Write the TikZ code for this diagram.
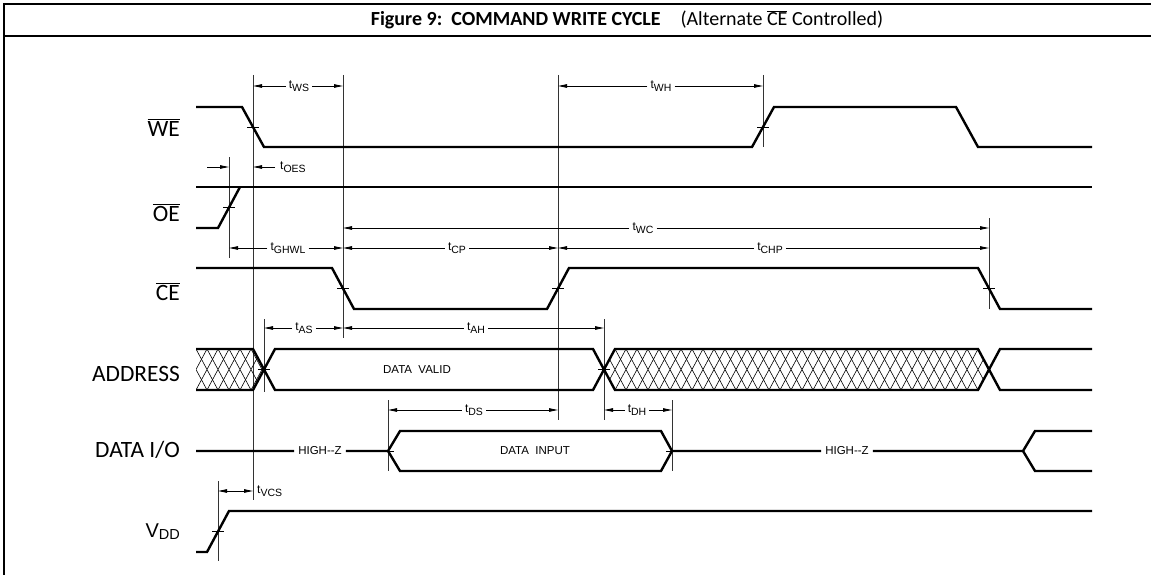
\documentclass[tikz,border=0pt]{standalone}
\usepackage{fontspec}
\setmainfont{Carlito}
\newfontfamily\dimfont{Liberation Sans}
\usetikzlibrary{arrows.meta}

\newcommand{\ovl}[1]{$\overline{\hbox{#1}}$}
\newcommand{\tsub}[1]{{\fontsize{12}{12}\selectfont t}\raisebox{-3.5pt}{\fontsize{10.5}{10.5}\selectfont #1}}

\begin{document}
\begin{tikzpicture}[x=1pt, y=-1pt, >={Triangle[length=9pt,width=3.5pt]},
  sig/.style={line width=2.4pt},
  border/.style={line width=2.8pt},
  ref/.style={line width=0.9pt, black!80},
  dim/.style={line width=0.9pt, ->},
  xmark/.style={line width=0.9pt},
  hatch/.style={line width=0.6pt},
  sname/.style={font=\fontsize{23.4}{24}\selectfont, anchor=base east, inner sep=0pt},
  tlab/.style={font=\dimfont, inner sep=3pt},
  blab/.style={font=\dimfont\fontsize{11.5}{12}\selectfont, inner sep=4pt}]

  \useasboundingbox (0,0) rectangle (1151,575);

  % frame and title
  \draw[border] (4,575) -- (4,4) -- (1151,4);
  \draw[border] (4,36) -- (1151,36);
  \node (title) at (627,20) {\fontsize{20}{21}\selectfont\bfseries Figure 9:\ \ COMMAND WRITE CYCLE\quad
    {\mdseries (Alternate \ovl{CE} Controlled)}};

  % signal names
  \node[sname] (we)   at (180,136) {\ovl{WE}};
  \node[sname] (oe)   at (180,221) {\ovl{OE}};
  \node[sname] (ce)   at (180,300) {\ovl{CE}};
  \node[sname] (addr) at (180,381) {ADDRESS};
  \node[sname] (dio)  at (180,457) {DATA I/O};
  \node[sname, font=\dimfont\fontsize{20}{20}\selectfont] (vdd) at (180,537)
    {V\raisebox{-2.6pt}{\fontsize{14.5}{14.5}\selectfont DD}};

  % reference lines
  \draw[ref] (253,75) -- (253,500);
  \draw[ref] (343,75) -- (343,338);
  \draw[ref] (558,75) -- (558,420);
  \draw[ref] (763,75) -- (763,147);
  \draw[ref] (229,157) -- (229,258);
  \draw[ref] (989,218) -- (989,309);
  \draw[ref] (264,319) -- (264,392);
  \draw[ref] (604,319) -- (604,420);
  \draw[ref] (388,400) -- (388,471);
  \draw[ref] (672,400) -- (672,471);
  \draw[ref] (218,481) -- (218,561);

  % waveforms
  \draw[sig] (196,107) -- (242,107) -- (264,147) -- (752,147) -- (774,107) -- (956,107) -- (978,147) -- (1092,147);
  \draw[sig] (196,187) -- (1092,187);
  \draw[sig] (196,228) -- (218,228) -- (240,187);
  \draw[sig] (196,268) -- (332,268) -- (354,309) -- (547,309) -- (569,268) -- (978,268) -- (1000,309) -- (1092,309);
  \draw[sig] (196,349) -- (253,349) -- (275,390) -- (593,390) -- (615,349) -- (978,349) -- (1000,390) -- (1092,390);
  \draw[sig] (196,390) -- (253,390) -- (275,349) -- (593,349) -- (615,390) -- (978,390) -- (1000,349) -- (1092,349);
  \node[blab] (valid) at (417,370) {DATA\ \ VALID};
  \node[blab] (hz1) at (320,451) {HIGH--Z};
  \node[blab] (hz2) at (847,451) {HIGH--Z};
  \node[blab] (din) at (535,451) {DATA\ \ INPUT};
  \draw[sig] (196,451) -- (hz1) -- (388,451) -- (400,431) -- (661,431) -- (672,451) -- (hz2) -- (1023,451) -- (1035,431) -- (1092,431);
  \draw[sig] (388,451) -- (400,471) -- (661,471) -- (672,451);
  \draw[sig] (1023,451) -- (1035,471) -- (1092,471);
  \draw[sig] (196,552) -- (207,552) -- (229,511) -- (1092,511);

  % hatching
  \begin{scope}
    \clip (196,349) -- (253,349) -- (264,369.5) -- (253,390) -- (196,390) -- cycle;
    \foreach \x in {174,185,...,264}
      \draw[hatch] (\x,349) -- (\x+22,390) (\x+22,349) -- (\x,390);
  \end{scope}
  \begin{scope}
    \clip (604,369.5) -- (615,349) -- (978,349) -- (989,369.5) -- (978,390) -- (615,390) -- cycle;
    \foreach \x in {582,593,...,989}
      \draw[hatch] (\x,349) -- (\x+22,390) (\x+22,349) -- (\x,390);
  \end{scope}

  % crossing marks
  \foreach \x/\y in {253/127, 763/127, 229/207.5, 343/288.5, 558/288.5, 989/288.5, 264/369.5, 604/369.5, 388/451, 672/451, 218/531}
    \draw[xmark] (\x-6,\y) -- (\x+6,\y);

  % timing parameters
  \node[tlab] (tws) at (299,86) {\tsub{WS}};
  \draw[dim] (tws) -- (253,86);
  \draw[dim] (tws) -- (343,86);
  \node[tlab] (twh) at (661,86) {\tsub{WH}};
  \draw[dim] (twh) -- (558,86);
  \draw[dim] (twh) -- (763,86);
  \node[tlab, anchor=west] (toes) at (277,167) {\tsub{OES}};
  \draw[dim] (207,167) -- (229,167);
  \draw[dim] (275,167) -- (253,167);
  \node[tlab] (twc) at (643,228) {\tsub{WC}};
  \draw[dim] (twc) -- (343,228);
  \draw[dim] (twc) -- (989,228);
  \node[tlab] (tghwl) at (288,248) {\tsub{GHWL}};
  \draw[dim] (tghwl) -- (229,248);
  \draw[dim] (tghwl) -- (343,248);
  \node[tlab] (tcp) at (457,248) {\tsub{CP}};
  \draw[dim] (tcp) -- (343,248);
  \draw[dim] (tcp) -- (558,248);
  \node[tlab] (tchp) at (770,248) {\tsub{CHP}};
  \draw[dim] (tchp) -- (558,248);
  \draw[dim] (tchp) -- (989,248);
  \node[tlab] (tas) at (304,328) {\tsub{AS}};
  \draw[dim] (tas) -- (264,328);
  \draw[dim] (tas) -- (343,328);
  \node[tlab] (tah) at (476,328) {\tsub{AH}};
  \draw[dim] (tah) -- (343,328);
  \draw[dim] (tah) -- (604,328);
  \node[tlab] (tds) at (474,410) {\tsub{DS}};
  \draw[dim] (tds) -- (388,410);
  \draw[dim] (tds) -- (558,410);
  \node[tlab] (tdh) at (637,410) {\tsub{DH}};
  \draw[dim] (tdh) -- (604,410);
  \draw[dim] (tdh) -- (672,410);
  \draw[dim, <->] (218,491) -- (253,491);
  \node[tlab, anchor=west] (tvcs) at (254,491) {\tsub{VCS}};
\end{tikzpicture}
\end{document}
